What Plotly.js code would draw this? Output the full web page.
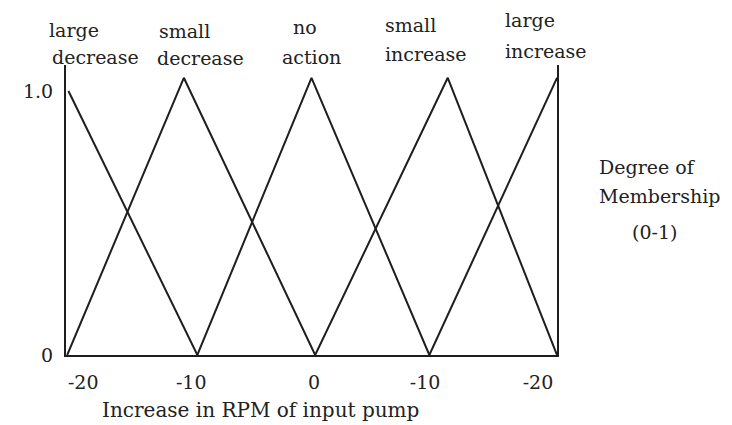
<!DOCTYPE html>
<html>
<head>
<meta charset="utf-8">
<script src="https://cdn.plot.ly/plotly-3.0.1.min.js"></script>
<style>html,body{margin:0;padding:0;background:#fff;}#chart{width:732px;height:425px;}</style>
</head>
<body>
<div id="chart"></div>
<script>
// ---- data ----
const largeDecreaseX = [-19.8, -9.3];
const largeDecreaseY = [1.0, 0];
const smallDecreaseX = [-19.9, -10.4, 0.3];
const smallDecreaseY = [0, 1.05, 0];
const noActionX = [-9.3, 0.0, 9.6];
const noActionY = [0, 1.05, 0];
const smallIncreaseX = [0.3, 11.1, 20];
const smallIncreaseY = [0, 1.05, 0];
const largeIncreaseX = [9.6, 20];
const largeIncreaseY = [0, 1.05];

const xTickVals = [-18.6, -9.8, 0.2, 9.25, 18.45];
const xTickText = ['-20', '-10', '0', '-10', '-20'];
const yTickVals = [0, 1];
const yTickText = ['0', '1.0'];

const setLabelLine1 = ['large', 'small', 'no', 'small', 'large'];
const setLabelLine2 = ['decrease', 'decrease', 'action', 'increase', 'increase'];
const yTitleLines = ['Degree of', 'Membership', '(0-1)'];
const xTitleText = 'Increase in RPM of input pump';

// ---- layout geometry (pixels) ----
const W = 732, H = 425;
const M = {l: 66, r: 175, t: 65, b: 70};
const plotW = W - M.l - M.r, plotH = H - M.t - M.b;
const px2x = p => (p - M.l) / plotW;
const py2y = p => (H - M.b - p) / plotH;

const FONT = 'DejaVu Serif, Liberation Serif, serif';
const INK = '#222';
const LINE = '#1e1e1e';

const line1Pos = [[47, 30], [157, 31], [291, 27], [383, 25], [503, 20]];
const line2Pos = [[50, 57], [155, 58], [280, 57], [383, 54], [503, 51]];
const yTitlePos = [[597, 167], [597, 196], [630, 232]];
const xTitlePos = [100, 410];

function mk(x, y) {
  return {x: x, y: y, type: 'scatter', mode: 'lines',
          line: {color: LINE, width: 2}, hoverinfo: 'skip', showlegend: false};
}
const traces = [
  mk(largeDecreaseX, largeDecreaseY),
  mk(smallDecreaseX, smallDecreaseY),
  mk(noActionX, noActionY),
  mk(smallIncreaseX, smallIncreaseY),
  mk(largeIncreaseX, largeIncreaseY)
];

const annotations = [];
function addText(text, p, size) {
  annotations.push({text: text, xref: 'paper', yref: 'paper', x: px2x(p[0]), y: py2y(p[1]),
    xanchor: 'left', yanchor: 'middle', showarrow: false,
    font: {family: FONT, size: size, color: INK}});
}
setLabelLine1.forEach((t, i) => addText(t, line1Pos[i], 19));
setLabelLine2.forEach((t, i) => addText(t, line2Pos[i], 19));
yTitleLines.forEach((t, i) => addText(t, yTitlePos[i], 19));
addText(xTitleText, xTitlePos, 20);

const layout = {
  width: W, height: H,
  margin: M,
  paper_bgcolor: '#fff', plot_bgcolor: '#fff',
  showlegend: false,
  xaxis: {range: [-20, 20], showgrid: false, zeroline: false, showline: true,
          linecolor: LINE, linewidth: 2, mirror: false,
          tickmode: 'array', tickvals: xTickVals, ticktext: xTickText,
          ticks: '', ticklabelstandoff: 9,
          tickfont: {family: FONT, size: 19, color: INK}, fixedrange: true},
  yaxis: {range: [0, plotH / 264], showgrid: false, zeroline: false, showline: true,
          linecolor: LINE, linewidth: 2, mirror: true,
          tickmode: 'array', tickvals: yTickVals, ticktext: yTickText,
          ticks: '', ticklabelstandoff: 7,
          tickfont: {family: FONT, size: 19, color: INK}, fixedrange: true},
  annotations: annotations
};

Plotly.newPlot('chart', traces, layout, {displayModeBar: false, staticPlot: true});
</script>
</body>
</html>
